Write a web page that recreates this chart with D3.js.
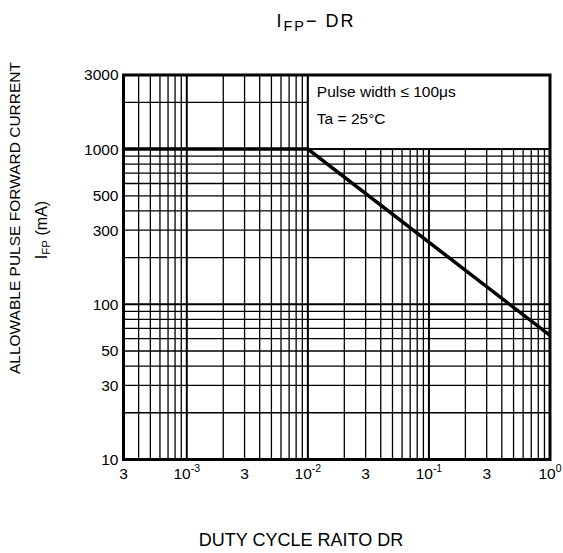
<!DOCTYPE html>
<html>
<head>
<meta charset="utf-8">
<script src="https://cdn.jsdelivr.net/npm/d3@7"></script>
<style>
	body { margin: 0; background: #fff; }
	text { font-family: "Liberation Sans", Arial, sans-serif; fill: #000; }
</style>
</head>
<body>
<svg id="chart" width="563" height="553"></svg>
<script>
/////////////
// DATA    //
/////////////
var dutyRatio = [3e-4, 1e-2, 1];
var ifpLimit = [1000, 1000, 63];
var xTicks = [3e-4, 1e-3, 3e-3, 1e-2, 3e-2, 1e-1, 3e-1, 1];
var xTickBase = ["3", "10", "3", "10", "3", "10", "3", "10"];
var xTickExp = ["", "-3", "", "-2", "", "-1", "", "0"];
var yTicks = [10, 30, 50, 100, 300, 500, 1000, 3000];
var yTickLabels = ["10", "30", "50", "100", "300", "500", "1000", "3000"];
var noteLines = ["Pulse width \u2264 100\u03bcs", "Ta = 25\u00b0C"];

/////////////////
// "CONSTANTS" //
/////////////////
var LEFT = 123.5, RIGHT = 550, TOP = 75, BOTTOM = 459.5;
var GRID_W = 1.3, MAJOR_W = 2, FRAME_W = 3, LINE_W = 3.5;

var svg = d3.select("#chart");

var x = d3.scaleLog().domain([3e-4, 1]).range([LEFT, RIGHT]);
var y = d3.scaleLog().domain([10, 3000]).range([BOTTOM, TOP]);

// grid values: 1..9 x 10^e inside the domain
var gridX = [], gridY = [];
for (var e = -4; e <= 0; e++) {
	for (var k = 1; k < 10; k++) {
		var v = k * Math.pow(10, e);
		if (v > 3e-4 * 1.001 && v < 0.999) gridX.push(v);
	}
}
for (var e = 1; e <= 3; e++) {
	for (var k = 1; k < 10; k++) {
		var v = k * Math.pow(10, e);
		if (v > 10 * 1.001 && v < 3000 * 0.999) gridY.push(v);
	}
}
var isMajor = function(v) {
	var l = Math.log10(v);
	return Math.abs(l - Math.round(l)) < 1e-6;
};

var grid = svg.append("g");
grid.selectAll("line.gx")
	.data(gridX)
	.enter().append("line")
	.attr("x1", function(d) { return x(d); })
	.attr("x2", function(d) { return x(d); })
	.attr("y1", TOP)
	.attr("y2", BOTTOM)
	.attr("stroke", "#000")
	.attr("stroke-width", function(d) { return isMajor(d) ? MAJOR_W : GRID_W; });
grid.selectAll("line.gy")
	.data(gridY)
	.enter().append("line")
	.attr("x1", LEFT)
	.attr("x2", RIGHT)
	.attr("y1", function(d) { return y(d); })
	.attr("y2", function(d) { return y(d); })
	.attr("stroke", "#000")
	.attr("stroke-width", function(d) { return isMajor(d) ? MAJOR_W : GRID_W; });

// note box (covers the grid in the upper right)
svg.append("rect")
	.attr("x", x(1e-2))
	.attr("y", y(3000))
	.attr("width", x(1) - x(1e-2))
	.attr("height", y(1000) - y(3000))
	.attr("fill", "#fff")
	.attr("stroke", "#000")
	.attr("stroke-width", 2);
svg.selectAll("text.note")
	.data(noteLines)
	.enter().append("text")
	.attr("x", x(1e-2) + 9)
	.attr("y", function(d, i) { return 97 + i * 27; })
	.attr("font-size", 15.5)
	.text(function(d) { return d; });

// frame
svg.append("rect")
	.attr("x", LEFT)
	.attr("y", TOP)
	.attr("width", RIGHT - LEFT)
	.attr("height", BOTTOM - TOP)
	.attr("fill", "none")
	.attr("stroke", "#000")
	.attr("stroke-width", FRAME_W);

// limit curve
var line = d3.line()
	.x(function(d, i) { return x(dutyRatio[i]); })
	.y(function(d) { return y(d); });
svg.append("path")
	.datum(ifpLimit)
	.attr("d", line)
	.attr("fill", "none")
	.attr("stroke", "#000")
	.attr("stroke-width", LINE_W);

// y axis labels
var yAxis = d3.axisLeft(y)
	.tickValues(yTicks)
	.tickFormat(function(d, i) { return yTickLabels[i]; })
	.tickSize(0)
	.tickPadding(4);
var gy = svg.append("g")
	.attr("transform", "translate(" + (LEFT - 1) + ",0)")
	.call(yAxis);
gy.select(".domain").remove();
gy.selectAll("text")
	.attr("font-size", 15.5)
	.attr("font-family", "Liberation Sans, Arial, sans-serif")
	.attr("fill", "#000");

// x axis labels (with superscript exponents)
var gx = svg.append("g");
gx.selectAll("text")
	.data(xTicks)
	.enter().append("text")
	.attr("x", function(d) { return x(d); })
	.attr("y", BOTTOM + 19)
	.attr("text-anchor", "middle")
	.attr("font-size", 15.5)
	.each(function(d, i) {
		var t = d3.select(this);
		t.append("tspan").text(xTickBase[i]);
		if (xTickExp[i] != "") {
			t.append("tspan")
				.attr("dy", -7)
				.attr("font-size", 10.5)
				.text(xTickExp[i]);
		}
	});

// axis titles
svg.append("text")
	.attr("transform", "translate(20," + 62 + ") rotate(-90)")
	.attr("text-anchor", "end")
	.attr("font-size", 15.5)
	.text("ALLOWABLE PULSE FORWARD CURRENT");
var ifpLabel = svg.append("text")
	.attr("transform", "translate(47,230) rotate(-90)")
	.attr("text-anchor", "middle")
	.attr("font-size", 16);
ifpLabel.append("tspan").text("I");
ifpLabel.append("tspan").attr("font-size", 11.5).attr("dy", 3).text("FP");
ifpLabel.append("tspan").attr("dy", -3).text(" (mA)");

svg.append("text")
	.attr("x", 301)
	.attr("y", 546)
	.attr("text-anchor", "middle")
	.attr("font-size", 18)
	.text("DUTY CYCLE RAITO DR");

// title
var title = svg.append("text")
	.attr("x", 316)
	.attr("y", 27)
	.attr("text-anchor", "middle")
	.attr("font-family", "DejaVu Sans, sans-serif")
	.attr("font-size", 18)
	.attr("letter-spacing", 2);
title.append("tspan").text("I");
title.append("tspan").attr("font-size", 14.5).attr("dy", 4).text("FP");
title.append("tspan").attr("dy", -4).text("\u2212 DR");
</script>
</body>
</html>
